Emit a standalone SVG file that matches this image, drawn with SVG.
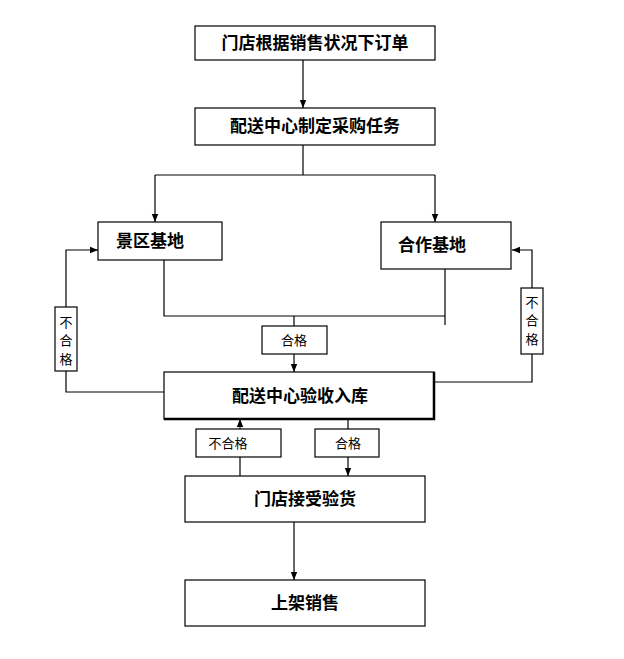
<svg xmlns="http://www.w3.org/2000/svg" width="624" height="659" viewBox="0 0 624 659">
<style>
.b{fill:#fff;stroke:#000;stroke-width:1.2}
.t{font-family:"Liberation Sans","Noto Sans CJK SC",sans-serif;font-size:17px;font-weight:bold;text-anchor:middle;fill:#000}
.s{font-family:"Liberation Sans","Noto Sans CJK SC",sans-serif;font-size:13px;text-anchor:middle;fill:#000}
.c{fill:none;stroke:#000;stroke-width:1.2}
</style>
<defs><marker id="a" viewBox="0 0 10 10" refX="10" refY="5" markerWidth="7" markerHeight="7" orient="auto"><path d="M0,1L10,5L0,9z" fill="#000"/></marker></defs>
<rect width="624" height="659" fill="#fff"/>
<g id="connectors">
<path class="c" d="M303,60V108" marker-end="url(#a)"/>
<path class="c" d="M303,145V175"/>
<path class="c" d="M155,175H435"/>
<path class="c" d="M155,175V222" marker-end="url(#a)"/>
<path class="c" d="M435,175V222" marker-end="url(#a)"/>
<path class="c" d="M164,260V316H445M445,269V325M294,316V326"/>
<path class="c" d="M294,354V372" marker-end="url(#a)"/>
<path class="c" d="M164,392H66V250H98" marker-end="url(#a)"/>
<path class="c" d="M434,382H532V250H512" marker-end="url(#a)"/>
<path class="c" d="M240,476V419" marker-end="url(#a)"/>
<path class="c" d="M348,419V476" marker-end="url(#a)"/>
<path class="c" d="M294,522V580" marker-end="url(#a)"/>
</g>
<g id="n1"><rect class="b" x="195" y="26" width="240" height="34"/><text class="t" x="315" y="49">门店根据销售状况下订单</text></g>
<g id="n2"><rect class="b" x="195" y="108" width="240" height="37"/><text class="t" x="315" y="132">配送中心制定采购任务</text></g>
<g id="n3"><rect class="b" x="98" y="222" width="124" height="38"/><text class="t" x="150" y="247">景区基地</text></g>
<g id="n4"><rect class="b" x="381" y="222" width="130" height="47"/><text class="t" x="432" y="251">合作基地</text></g>
<g id="l1"><rect class="b" x="262" y="326" width="65" height="28"/><text class="s" x="294" y="345">合格</text></g>
<g id="l2"><rect class="b" x="55" y="307" width="22" height="64"/><text class="s" x="66" y="327">不</text><text class="s" x="66" y="345">合</text><text class="s" x="66" y="364">格</text></g>
<g id="l3"><rect class="b" x="521" y="288" width="22" height="66"/><text class="s" x="532" y="307">不</text><text class="s" x="532" y="325">合</text><text class="s" x="532" y="344">格</text></g>
<g id="n5"><rect class="b" x="164" y="372" width="270" height="47"/><path d="M164,419H434V372" fill="none" stroke="#000" stroke-width="2.5"/><text class="t" x="300" y="402">配送中心验收入库</text></g>
<g id="l4"><rect class="b" x="196" y="429" width="85" height="28"/><text class="s" x="228" y="448">不合格</text></g>
<g id="l5"><rect class="b" x="315" y="429" width="64" height="28"/><text class="s" x="348" y="448">合格</text></g>
<g id="n6"><rect class="b" x="185" y="476" width="240" height="46"/><text class="t" x="305" y="505">门店接受验货</text></g>
<g id="n7"><rect class="b" x="185" y="580" width="240" height="46"/><text class="t" x="305" y="609">上架销售</text></g>
</svg>
